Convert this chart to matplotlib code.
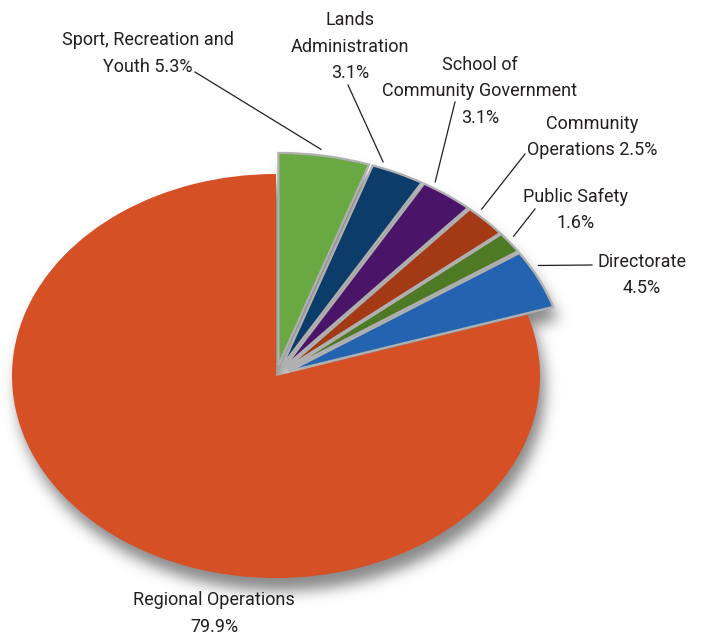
import matplotlib
matplotlib.use("Agg")
import matplotlib.pyplot as plt
import numpy as np

# Budget share by division
shares = [5.3, 3.1, 3.1, 2.5, 1.6, 4.5, 79.9]
label_lines = [["Sport, Recreation and", "Youth 5.3%"],
               ["Lands", "Administration", "3.1%"],
               ["School of", "Community Government", "3.1%"],
               ["Community", "Operations 2.5%"],
               ["Public Safety", "1.6%"],
               ["Directorate", "4.5%"],
               ["Regional Operations", "79.9%"]]
colors = ["#6aa843", "#0c3d6a", "#4a1469", "#a43a15", "#4f7a25", "#2463b0", "#d65026"]

W, H = 703, 639
cx, cy, rx, ry = 276, 376, 264, 202

fig = plt.figure(figsize=(W / 100, H / 100), dpi=100)
ax = fig.add_axes([0, 0, 1, 1])

explode = [0.055] * 6 + [0.0]
wedges, _ = ax.pie(shares, colors=colors, startangle=90, counterclock=False,
                   explode=explode, radius=1.0,
                   wedgeprops=dict(linewidth=0))
for w in wedges[:-1]:
    w.set_radius(1.05)
    w.set_edgecolor("#b0b0b0")
    w.set_linewidth(1.6)
for w in wedges:
    w.set_zorder(5)

xlim = (-cx / rx, (W - cx) / rx)
ylim = (-(H - cy) / ry, cy / ry)
ax.set_aspect("auto")
ax.set_xlim(*xlim)
ax.set_ylim(*ylim)
ax.axis("off")

# soft drop shadow: blurred silhouette of the wedges, shifted down-right
gx, gy = np.meshgrid(np.arange(W) + 0.5, np.arange(H) + 0.5)
pts = np.column_stack([gx.ravel(), gy.ravel()])
mask = np.zeros(W * H, dtype=float)
for w in wedges:
    mask = np.maximum(mask, w.get_path().contains_points(pts, transform=w.get_transform()))
mask = mask.reshape(H, W)
shift_x, shift_y = 5, 13
mask = np.roll(np.roll(mask, shift_x, axis=1), -shift_y, axis=0)
sigma = 7.0
k = np.arange(-24, 25)
kern = np.exp(-k ** 2 / (2 * sigma ** 2))
kern /= kern.sum()
blur = np.apply_along_axis(lambda r: np.convolve(r, kern, mode="same"), 1, mask)
blur = np.apply_along_axis(lambda c: np.convolve(c, kern, mode="same"), 0, blur)
shadow = np.zeros((H, W, 4))
shadow[..., :3] = 0.3
shadow[..., 3] = np.clip(blur, 0, 1) * 0.66
ax.imshow(shadow, extent=(xlim[0], xlim[1], ylim[0], ylim[1]), origin="lower",
          aspect="auto", zorder=1, interpolation="bilinear")
ax.set_xlim(*xlim)
ax.set_ylim(*ylim)


def to_data(px, py):
    return (px - cx) / rx, (cy - py) / ry


# label placement: centre x and first-line y (pixels), leader line starts,
# and where on each arc the leader lands
label_pos = [(148, 40), (350, 20), (480, 65), (592, 124), (576, 197), (642, 262), (214, 600)]
line_pitch = 26.5
leader_start = [(195, 72), (348, 85), (455, 102), (525, 154), (535, 209), (592, 265), None]
arc_frac = [0.45, 0.15, 0.15, 0.2, 0.35, 0.3, None]
font = ["Roboto", "DejaVu Sans"]

for i, w in enumerate(wedges):
    px, py = label_pos[i]
    for j, line in enumerate(label_lines[i]):
        tx, ty = to_data(px, py + j * line_pitch)
        ax.text(tx, ty, line, ha="center", va="center", fontsize=13,
                family=font, color="#231f20", zorder=10)
    if leader_start[i] is not None:
        ang = np.deg2rad(w.theta2 - arc_frac[i] * (w.theta2 - w.theta1))
        ex = w.center[0] + (w.r + 0.03) * np.cos(ang)
        ey = w.center[1] + (w.r + 0.03) * np.sin(ang)
        sx0, sy0 = to_data(*leader_start[i])
        ax.plot([sx0, ex], [sy0, ey], color="#231f20", lw=0.9, zorder=10)

fig.savefig("out.png", dpi=100, facecolor="white")
